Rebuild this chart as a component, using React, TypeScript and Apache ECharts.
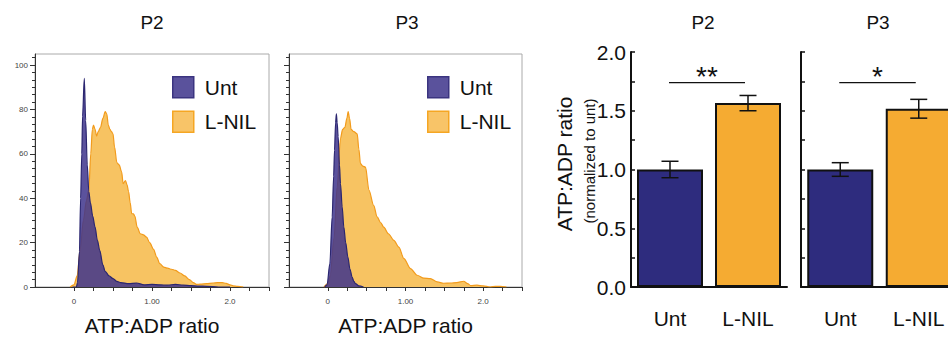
import React, { useEffect, useRef } from "react";
import * as echarts from "echarts";

// ---------- data ----------
const panelTitles = ["P2", "P3", "P2", "P3"];
const groupNames = ["Unt", "L-NIL"];
const histXTickLabels: Record<string, string> = { "0": "0", "1": "1.00", "2": "2.0" };
const histYTickLabels = [0, 20, 40, 60, 80, 100];
const axisTitle = "ATP:ADP ratio";
const barAxisTitle = "ATP:ADP ratio";
const barAxisSubtitle = "(normalized to unt)";

// P2 histogram
const p2UntX = [-0.02, 0.03, 0.045, 0.07, 0.085, 0.1, 0.11, 0.132, 0.15, 0.17, 0.19, 0.21, 0.24, 0.27, 0.3, 0.33, 0.37, 0.4, 0.45, 0.5, 0.55, 0.6, 0.7, 0.8, 0.9, 1.0, 1.1, 1.2, 1.3, 1.4, 1.5, 1.6, 1.7, 1.85, 2.0];
const p2UntY = [0, 0, 2, 16, 40, 60, 77, 94, 75, 55, 43, 38, 32, 27, 21, 16.5, 10, 7, 5, 3.8, 2.5, 2, 1.5, 1.8, 1, 1.2, 1, 0.8, 1.2, 0.8, 0.6, 0.4, 0.3, 0, 0];
const p2LnilX = [-0.05, 0.0, 0.04, 0.08, 0.12, 0.16, 0.19, 0.215, 0.235, 0.25, 0.27, 0.29, 0.31, 0.34, 0.37, 0.4, 0.42, 0.44, 0.46, 0.48, 0.5, 0.52, 0.55, 0.58, 0.61, 0.63, 0.66, 0.68, 0.7, 0.72, 0.74, 0.76, 0.78, 0.81, 0.85, 0.89, 0.93, 0.97, 1.02, 1.06, 1.1, 1.15, 1.2, 1.25, 1.3, 1.36, 1.42, 1.48, 1.53, 1.57, 1.62, 1.7, 1.78, 1.84, 1.9, 1.95, 2.0, 2.04, 2.1, 2.17];
const p2LnilY = [0, 1, 5, 17, 30, 39, 44, 60, 71, 73, 71, 68, 70, 72, 76, 79, 78, 73, 71, 70, 69, 63, 56, 55, 52, 46.6, 48, 46, 43, 38, 33, 33, 32, 27, 24, 23.5, 22.5, 20, 17, 13.5, 10.5, 9, 8.5, 8, 7.5, 6.3, 5, 3.3, 2, 1.2, 1.3, 1.5, 1.8, 2, 2, 1.6, 1, 0.5, 0.3, 0];

// P3 histogram
const p3UntX = [-0.04, -0.01, 0.026, 0.056, 0.075, 0.086, 0.1, 0.11, 0.12, 0.133, 0.15, 0.163, 0.185, 0.206, 0.23, 0.258, 0.285, 0.313, 0.335, 0.356, 0.4, 0.46];
const p3UntY = [0, 1, 10.5, 31.6, 50, 61.6, 74, 78, 74, 67.7, 55, 46.6, 36, 27, 20, 13.5, 8, 4.5, 2.5, 1.5, 0.5, 0];
const p3LnilX = [-0.05, 0.0, 0.03, 0.08, 0.12, 0.163, 0.19, 0.22, 0.245, 0.262, 0.28, 0.3, 0.335, 0.378, 0.4, 0.42, 0.45, 0.485, 0.53, 0.59, 0.635, 0.68, 0.72, 0.78, 0.85, 0.914, 0.98, 1.064, 1.15, 1.236, 1.32, 1.41, 1.49, 1.58, 1.66, 1.75, 1.8, 1.84, 1.92, 2.0, 2.09, 2.16, 2.22, 2.3];
const p3LnilY = [0, 1.5, 5, 22, 45, 67, 71, 72, 76, 79, 76, 71, 70, 69, 62, 55.6, 54.5, 54, 43.6, 36.8, 31.6, 29, 27, 24, 21, 18, 12.8, 8.3, 5.3, 4, 3.8, 2.3, 1.7, 1.8, 2, 2.6, 1.5, 0.6, 0.8, 0.5, 0, 0.3, 0.3, 0];

// bar charts (normalized ATP:ADP ratio)
const barP2Values = [1.0, 1.565];
const barP2Err = [0.07, 0.065];
const barP3Values = [1.0, 1.517];
const barP3Err = [0.058, 0.08];
const sigLevels = [1.74, 1.74];
const sigStars = ["**", "*"];

// ---------- styling ----------
const FONT = "'Liberation Sans', Arial, Helvetica, sans-serif";
const UNT_AREA = "rgba(62,52,140,0.85)";
const UNT_LINE = "#2b2670";
const LNIL_AREA = "#f7c362";
const LNIL_LINE = "#f29b1c";
const BAR_COLORS = ["#2e2c7e", "#f5ab32"];
const TEXT = "#111";

const zip = (xs: number[], ys: number[]) => xs.map((x, i) => [x, ys[i]]);

const histXTicks: number[] = [];
for (let k = 0; k <= 10; k++) histXTicks.push(k * 0.25);

function histAxes(i: number, showYLabels: boolean) {
  return {
    x: {
      type: "value",
      gridIndex: i,
      min: -0.5,
      max: 2.5,
      interval: 0.25,
      axisLine: { show: true, onZero: false, lineStyle: { color: "#333", width: 1 } },
      axisTick: { show: true, length: 4, customValues: histXTicks, lineStyle: { color: "#333" } },
      axisLabel: {
        customValues: [0, 1, 2],
        formatter: (v: number) => histXTickLabels[String(v)] ?? "",
        fontSize: 8,
        color: "#444",
        margin: 10,
        fontFamily: FONT,
      },
      splitLine: { show: false },
      name: axisTitle,
      nameLocation: "middle",
      nameGap: 28,
      nameTextStyle: { fontSize: 21, color: TEXT, fontFamily: FONT },
    },
    y: {
      type: "value",
      gridIndex: i,
      min: 0,
      max: 105,
      interval: 20,
      axisLine: { show: true, onZero: false, lineStyle: { color: "#333", width: 1 } },
      axisTick: { show: true, length: 5, customValues: histYTickLabels, lineStyle: { color: "#333" } },
      minorTick: { show: true, splitNumber: 6, length: 3, lineStyle: { color: "#333" } },
      axisLabel: {
        show: showYLabels,
        customValues: histYTickLabels,
        fontSize: 8,
        color: "#444",
        margin: 7,
        fontFamily: FONT,
      },
      splitLine: { show: false },
    },
  };
}

function barAxes(i: number, showYLabels: boolean) {
  return {
    x: {
      type: "category",
      gridIndex: i,
      data: groupNames,
      axisLine: { show: true, lineStyle: { color: TEXT, width: 2 } },
      axisTick: { show: false },
      axisLabel: { fontSize: 21, color: TEXT, margin: 21, fontFamily: FONT },
    },
    y: {
      type: "value",
      gridIndex: i,
      min: 0,
      max: 2,
      interval: 0.25,
      axisLine: { show: true, lineStyle: { color: TEXT, width: 2 } },
      axisTick: { show: true, inside: true, length: 4, lineStyle: { color: TEXT, width: 1.5 } },
      axisLabel: {
        show: showYLabels,
        formatter: (v: number) => (Math.abs(v * 2 - Math.round(v * 2)) < 1e-9 ? v.toFixed(1) : ""),
        fontSize: 21,
        color: TEXT,
        margin: 5,
        fontFamily: FONT,
      },
      splitLine: { show: false },
    },
  };
}

function histSeries(i: number, untX: number[], untY: number[], lnX: number[], lnY: number[]) {
  return [
    {
      type: "line",
      name: groupNames[1],
      xAxisIndex: i,
      yAxisIndex: i,
      data: zip(lnX, lnY),
      showSymbol: false,
      smooth: 0.3,
      smoothMonotone: "x",
      lineStyle: { color: LNIL_LINE, width: 1.2 },
      itemStyle: { color: LNIL_AREA },
      areaStyle: { color: LNIL_AREA, opacity: 1 },
      z: 2,
    },
    {
      type: "line",
      name: groupNames[0],
      xAxisIndex: i,
      yAxisIndex: i,
      data: zip(untX, untY),
      showSymbol: false,
      smooth: 0.3,
      smoothMonotone: "x",
      lineStyle: { color: UNT_LINE, width: 1.2 },
      itemStyle: { color: UNT_AREA },
      areaStyle: { color: UNT_AREA, opacity: 1 },
      z: 3,
    },
  ];
}

function barSeries(i: number, values: number[], errs: number[], panel: number) {
  return [
    {
      type: "bar",
      xAxisIndex: i,
      yAxisIndex: i,
      barWidth: 66,
      data: values.map((v, k) => ({ value: v, itemStyle: { color: BAR_COLORS[k] } })),
      itemStyle: { borderColor: TEXT, borderWidth: 2 },
      z: 2,
    },
    {
      type: "custom",
      xAxisIndex: i,
      yAxisIndex: i,
      data: values.map((v, k) => [k, v - errs[k], v + errs[k]]),
      encode: { x: 0, y: [1, 2] },
      z: 5,
      renderItem: (_p: any, api: any) => {
        const x = api.value(0);
        const lo = api.coord([x, api.value(1)]);
        const hi = api.coord([x, api.value(2)]);
        const hw = 8.5;
        const style = { stroke: TEXT, lineWidth: 1.5 };
        return {
          type: "group",
          children: [
            { type: "line", shape: { x1: lo[0], y1: lo[1], x2: hi[0], y2: hi[1] }, style },
            { type: "line", shape: { x1: lo[0] - hw, y1: lo[1], x2: lo[0] + hw, y2: lo[1] }, style },
            { type: "line", shape: { x1: hi[0] - hw, y1: hi[1], x2: hi[0] + hw, y2: hi[1] }, style },
          ],
        };
      },
    },
    {
      type: "custom",
      xAxisIndex: i,
      yAxisIndex: i,
      data: [[0, 1, sigLevels[panel]]],
      encode: { x: 0, y: 2 },
      z: 5,
      renderItem: (_p: any, api: any) => {
        const a = api.coord([api.value(0), api.value(2)]);
        const b = api.coord([api.value(1), api.value(2)]);
        return {
          type: "group",
          children: [
            {
              type: "line",
              shape: { x1: a[0] - 1, y1: a[1], x2: b[0] - 3, y2: b[1] },
              style: { stroke: TEXT, lineWidth: 1.2 },
            },
            {
              type: "text",
              x: (a[0] + b[0]) / 2 - 2,
              y: a[1] - 6,
              style: {
                text: sigStars[panel],
                fontSize: 28,
                fontFamily: FONT,
                fill: TEXT,
                align: "center",
                verticalAlign: "middle",
              },
            },
          ],
        };
      },
    },
  ];
}

function legendFor(left: number) {
  return {
    left,
    top: 71,
    orient: "vertical",
    icon: "rect",
    itemWidth: 21,
    itemHeight: 21,
    itemGap: 12,
    selectedMode: false,
    textStyle: { fontSize: 21, color: TEXT, fontFamily: FONT, padding: [0, 0, 0, 6] },
    data: [
      { name: groupNames[0], itemStyle: { color: "#5a529c", borderColor: "#3b3480", borderWidth: 1.5 } },
      { name: groupNames[1], itemStyle: { color: "#f8c468", borderColor: "#f5a623", borderWidth: 1.5 } },
    ],
  };
}

export default function App() {
  const ref = useRef<HTMLDivElement>(null);

  useEffect(() => {
    if (!ref.current) return;
    const chart = echarts.init(ref.current, null, { renderer: "svg" });

    const h0 = histAxes(0, true);
    const h1 = histAxes(1, false);
    const b0 = barAxes(2, true);
    const b1 = barAxes(3, false);

    const titlePos = [152, 407, 703, 878];

    const gridBase = { outerBoundsMode: "none", containLabel: false };

    const option: any = {
      animation: false,
      textStyle: { fontFamily: FONT },
      grid: [
        { ...gridBase, left: 35, top: 54, width: 234, height: 233, show: true, borderColor: "#aaa", borderWidth: 1, backgroundColor: "transparent" },
        { ...gridBase, left: 289, top: 54, width: 233, height: 233, show: true, borderColor: "#aaa", borderWidth: 1, backgroundColor: "transparent" },
        { ...gridBase, left: 631, top: 52, width: 156, height: 235 },
        { ...gridBase, left: 801, top: 52, width: 157, height: 235 },
      ],
      xAxis: [h0.x, h1.x, b0.x, b1.x],
      yAxis: [h0.y, h1.y, b0.y, b1.y],
      legend: [legendFor(167), legendFor(422)],
      series: [
        ...histSeries(0, p2UntX, p2UntY, p2LnilX, p2LnilY),
        ...histSeries(1, p3UntX, p3UntY, p3LnilX, p3LnilY),
        ...barSeries(2, barP2Values, barP2Err, 0),
        ...barSeries(3, barP3Values, barP3Err, 1),
      ],
      graphic: [
        ...panelTitles.map((t, k) => ({
          type: "text",
          x: titlePos[k],
          y: 22,
          style: { text: t, fontSize: 19, fontFamily: FONT, fill: TEXT, align: "center", verticalAlign: "middle" },
        })),
        {
          type: "text",
          x: 564,
          y: 164,
          rotation: Math.PI / 2,
          style: { text: barAxisTitle, fontSize: 21, fontFamily: FONT, fill: TEXT, align: "center", verticalAlign: "middle" },
        },
        {
          type: "text",
          x: 589,
          y: 161,
          rotation: Math.PI / 2,
          style: { text: barAxisSubtitle, fontSize: 15, fontFamily: FONT, fill: TEXT, align: "center", verticalAlign: "middle" },
        },
      ],
    };

    chart.setOption(option);
    return () => chart.dispose();
  }, []);

  return (
    <div
      ref={ref}
      style={{ position: "absolute", left: 0, top: 0, width: 948, height: 338, background: "#fff" }}
    />
  );
}
